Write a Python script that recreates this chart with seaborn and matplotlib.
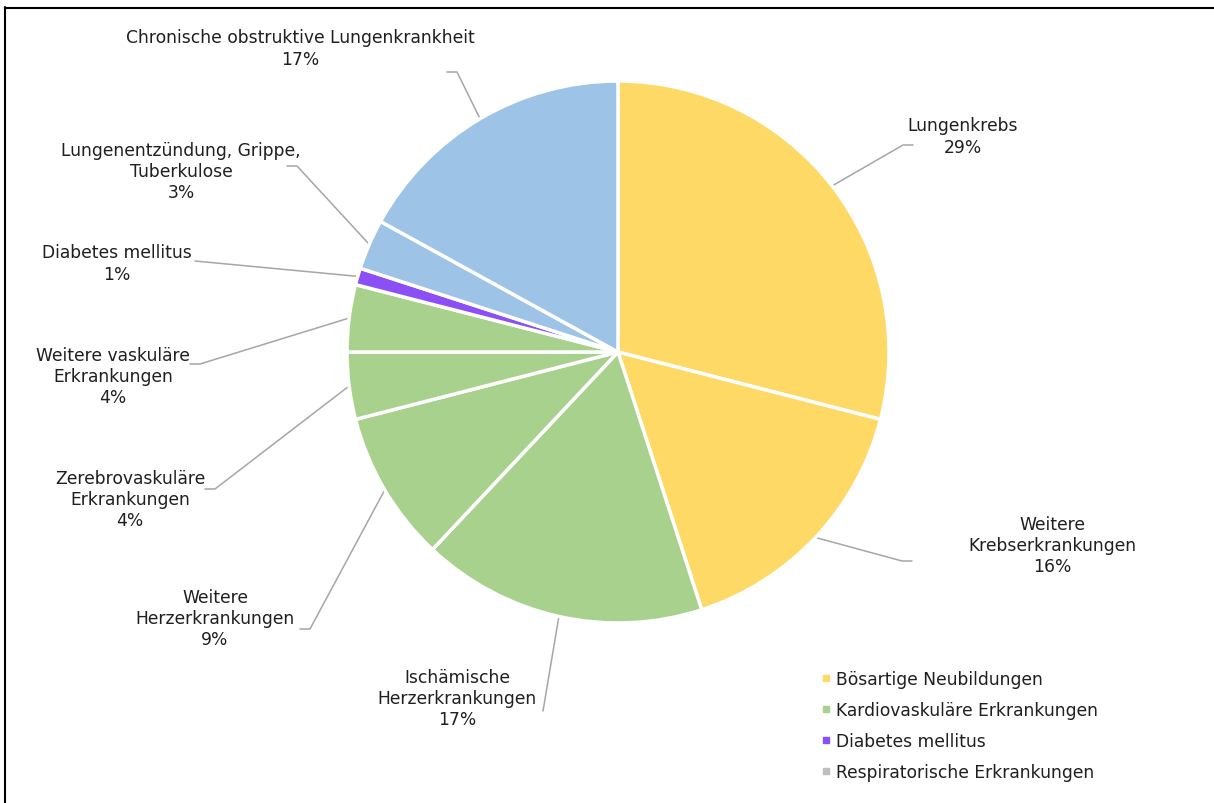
import matplotlib.pyplot as plt
import seaborn as sns
import numpy as np
from matplotlib.lines import Line2D

# Todesursachen durch Rauchen (Anteile in %)
categories = [
    "Lungenkrebs",
    "Weitere\nKrebserkrankungen",
    "Ischämische\nHerzerkrankungen",
    "Weitere\nHerzerkrankungen",
    "Zerebrovaskuläre\nErkrankungen",
    "Weitere vaskuläre\nErkrankungen",
    "Diabetes mellitus",
    "Lungenentzündung, Grippe,\nTuberkulose",
    "Chronische obstruktive Lungenkrankheit",
]
shares = [29, 16, 17, 9, 4, 4, 1, 3, 17]
group_of = [0, 0, 1, 1, 1, 1, 2, 3, 3]
group_names = [
    "Bösartige Neubildungen",
    "Kardiovaskuläre Erkrankungen",
    "Diabetes mellitus",
    "Respiratorische Erkrankungen",
]
group_colors = ["#FFD966", "#A9D18E", "#8B50F5", "#9DC3E6"]
legend_marker_colors = ["#FFD966", "#A9D18E", "#8B50F5", "#BFBFBF"]

# label layout in pixels (top-left origin): text center, leader start
label_pos = [(963, 137), (1052, 546), (457, 699), (215, 619), (130, 500),
             (113, 377), (117, 264), (181, 172), (300, 49)]
leader_start = [(913, 146), (912, 562), (543, 712), (300, 630), (205, 490),
                (190, 365), (195, 262), (287, 167), (447, 73)]
stub = [-10, -10, 0, 10, 10, 10, 0, 10, 10]

W, H = 1214, 804
sns.set_theme(style="white")
plt.rcParams["font.family"] = ["DejaVu Sans"]

fig = plt.figure(figsize=(W / 100, H / 100), dpi=100)
ax = fig.add_axes([0, 0, 1, 1])

cx, cy, r = 618, H - 353, 271
colors = [group_colors[g] for g in group_of]
wedges, _ = ax.pie(shares, colors=colors, startangle=90, counterclock=False,
                   center=(cx, cy), radius=r,
                   wedgeprops=dict(edgecolor="white", linewidth=2.5))

for i, w in enumerate(wedges):
    mid = np.deg2rad((w.theta1 + w.theta2) / 2)
    ex, ey = cx + r * np.cos(mid), cy + r * np.sin(mid)
    sx, sy = leader_start[i]
    xs = [sx, sx + stub[i], ex]
    ys = [H - sy, H - sy, ey]
    ax.plot(xs, ys, color="#A6A6A6", linewidth=1.1, zorder=0)
    tx, ty = label_pos[i]
    ax.text(tx, H - ty, f"{categories[i]}\n{shares[i]}%", ha="center",
            va="center", fontsize=12.3, color="#1F1F1F", linespacing=1.22)

ax.set_xlim(0, W)
ax.set_ylim(0, H)
ax.set_aspect("equal")
ax.axis("off")

handles = [Line2D([], [], marker="s", linestyle="none", markersize=4,
                  color=c) for c in legend_marker_colors]
fig.legend(handles, group_names, loc="upper left",
           bbox_to_anchor=(805 / W, 1 - 656 / H), frameon=False,
           fontsize=12.3, labelspacing=0.76, handlelength=0.6,
           handletextpad=0.3, labelcolor="#1F1F1F")

# frame of the original screenshot
fig.add_artist(Line2D([5 / W, 5 / W], [0, 1 - 8 / H], color="black",
                      linewidth=1.5, transform=fig.transFigure))
fig.add_artist(Line2D([5 / W, 1], [1 - 9 / H, 1 - 9 / H], color="black",
                      linewidth=1.5, transform=fig.transFigure))

fig.savefig("out.png", dpi=100, facecolor="white")
